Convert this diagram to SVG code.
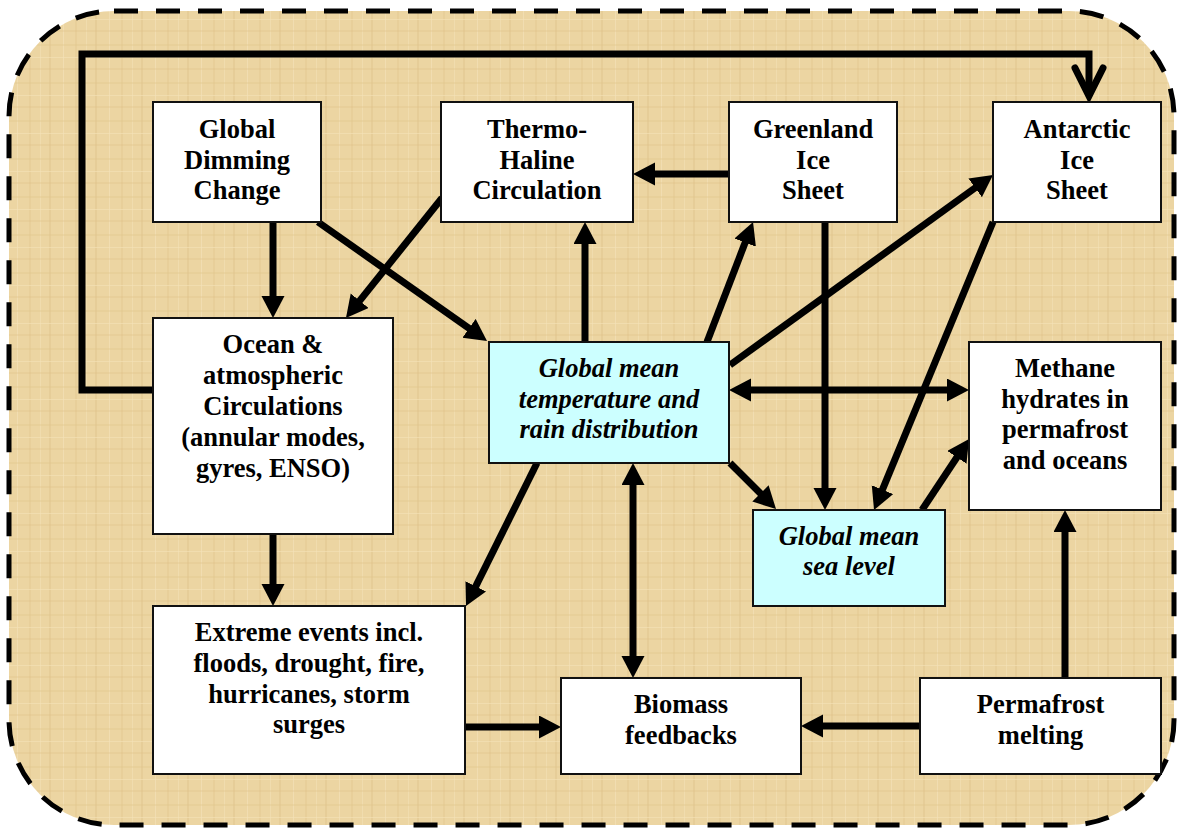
<svg xmlns="http://www.w3.org/2000/svg" width="1179" height="828" viewBox="0 0 1179 828">
<style>
.box{fill:#fff;stroke:#111;stroke-width:2}
.cyan{fill:#ccffff}
.t{font-family:'Liberation Serif','Times New Roman',Times,serif;font-weight:bold;font-size:26.5px;text-anchor:middle;fill:#000}
.i{font-style:italic}
.c{fill:none;stroke:#000;stroke-width:7}
</style>
<defs>
<marker id="ah" markerUnits="userSpaceOnUse" markerWidth="24" markerHeight="24" refX="4" refY="11.5" orient="auto-start-reverse" viewBox="0 0 24 24">
<path d="M0,0 L22,11.5 L0,23 z" fill="#000"/>
</marker>
<pattern id="tex" patternUnits="userSpaceOnUse" width="46" height="38">
<rect width="46" height="38" fill="#ecd5a2"/>
<rect x="3" y="0" width="2" height="38" fill="#dfc48c" opacity="0.45"/>
<rect x="17" y="0" width="1" height="38" fill="#f5e3bb" opacity="0.6"/>
<rect x="29" y="0" width="2" height="38" fill="#e0c68e" opacity="0.4"/>
<rect x="40" y="0" width="1" height="38" fill="#f4e1b6" opacity="0.6"/>
<rect x="0" y="6" width="46" height="2" fill="#e0c58c" opacity="0.35"/>
<rect x="0" y="19" width="46" height="1" fill="#f5e2b8" opacity="0.6"/>
<rect x="0" y="30" width="46" height="2" fill="#dec28a" opacity="0.3"/>
</pattern>
</defs>
<rect x="0" y="0" width="1179" height="828" fill="#fff"/>
<rect x="9" y="11" width="1165" height="814" rx="105" ry="105" fill="url(#tex)" stroke="#000" stroke-width="5" stroke-dasharray="24 18"/>

<g id="connectors">
<polyline class="c" points="153,390 82,390 82,54 1089,54 1089,96"/>
<path d="M1075,68 L1089,96 L1103,68" fill="none" stroke="#000" stroke-width="7" stroke-linecap="round"/>
<line class="c" x1="273" y1="222" x2="273" y2="300" marker-end="url(#ah)"/>
<line class="c" x1="318" y1="222" x2="472.3" y2="330.6" marker-end="url(#ah)"/>
<line class="c" x1="442" y1="198" x2="357.2" y2="303.9" marker-end="url(#ah)"/>
<line class="c" x1="585" y1="342" x2="585" y2="240" marker-end="url(#ah)"/>
<line class="c" x1="729" y1="174" x2="651" y2="174" marker-end="url(#ah)"/>
<line class="c" x1="707" y1="342" x2="746.6" y2="238.8" marker-end="url(#ah)"/>
<line class="c" x1="730" y1="365" x2="978.4" y2="185.5" marker-end="url(#ah)"/>
<line class="c" x1="825" y1="222" x2="825" y2="492" marker-end="url(#ah)"/>
<line class="c" x1="993" y1="222" x2="880.9" y2="493.4" marker-end="url(#ah)"/>
<line class="c" x1="747" y1="390" x2="951" y2="390" marker-start="url(#ah)" marker-end="url(#ah)"/>
<line class="c" x1="922" y1="510" x2="959.1" y2="454" marker-end="url(#ah)"/>
<line class="c" x1="730" y1="463" x2="763.3" y2="496.3" marker-end="url(#ah)"/>
<line class="c" x1="537" y1="463" x2="474" y2="589.9" marker-end="url(#ah)"/>
<line class="c" x1="633" y1="481" x2="633" y2="660" marker-start="url(#ah)" marker-end="url(#ah)"/>
<line class="c" x1="273" y1="534" x2="273" y2="588" marker-end="url(#ah)"/>
<line class="c" x1="465" y1="727" x2="543" y2="727" marker-end="url(#ah)"/>
<line class="c" x1="920" y1="726" x2="819" y2="726" marker-end="url(#ah)"/>
<line class="c" x1="1065" y1="678" x2="1065" y2="528" marker-end="url(#ah)"/>
</g>

<g id="global-dimming">
<rect class="box" x="153" y="102" width="168" height="120"/>
<text class="t" x="237" y="138">Global</text>
<text class="t" x="237" y="168.5">Dimming</text>
<text class="t" x="237" y="199">Change</text>
</g>
<g id="thermohaline">
<rect class="box" x="441" y="102" width="192" height="120"/>
<text class="t" x="537" y="138">Thermo-</text>
<text class="t" x="537" y="168.5">Haline</text>
<text class="t" x="537" y="199">Circulation</text>
</g>
<g id="greenland">
<rect class="box" x="729" y="102" width="168" height="120"/>
<text class="t" x="813" y="138">Greenland</text>
<text class="t" x="813" y="168.5">Ice</text>
<text class="t" x="813" y="199">Sheet</text>
</g>
<g id="antarctic">
<rect class="box" x="993" y="102" width="168" height="120"/>
<text class="t" x="1077" y="138">Antarctic</text>
<text class="t" x="1077" y="168.5">Ice</text>
<text class="t" x="1077" y="199">Sheet</text>
</g>
<g id="ocean-atmos">
<rect class="box" x="153" y="318" width="240" height="216"/>
<text class="t" x="273" y="353">Ocean &amp;</text>
<text class="t" x="273" y="384">atmospheric</text>
<text class="t" x="273" y="415">Circulations</text>
<text class="t" x="273" y="446">(annular modes,</text>
<text class="t" x="273" y="477">gyres, ENSO)</text>
</g>
<g id="global-temp">
<rect class="box cyan" x="489" y="342" width="240" height="121"/>
<text class="t i" x="609" y="377">Global mean</text>
<text class="t i" x="609" y="407.5">temperature and</text>
<text class="t i" x="609" y="438">rain distribution</text>
</g>
<g id="methane">
<rect class="box" x="969" y="342" width="192" height="168"/>
<text class="t" x="1065" y="377">Methane</text>
<text class="t" x="1065" y="407.5">hydrates in</text>
<text class="t" x="1065" y="438">permafrost</text>
<text class="t" x="1065" y="469">and oceans</text>
</g>
<g id="sea-level">
<rect class="box cyan" x="753" y="510" width="192" height="96"/>
<text class="t i" x="849" y="545">Global mean</text>
<text class="t i" x="849" y="575">sea level</text>
</g>
<g id="extreme-events">
<rect class="box" x="153" y="606" width="312" height="168"/>
<text class="t" x="309" y="641">Extreme events incl.</text>
<text class="t" x="309" y="672">floods, drought, fire,</text>
<text class="t" x="309" y="703">hurricanes, storm</text>
<text class="t" x="309" y="733">surges</text>
</g>
<g id="biomass">
<rect class="box" x="561" y="678" width="240" height="96"/>
<text class="t" x="681" y="713">Biomass</text>
<text class="t" x="681" y="744">feedbacks</text>
</g>
<g id="permafrost">
<rect class="box" x="920" y="678" width="241" height="96"/>
<text class="t" x="1040.5" y="713">Permafrost</text>
<text class="t" x="1040.5" y="744">melting</text>
</g>
</svg>
